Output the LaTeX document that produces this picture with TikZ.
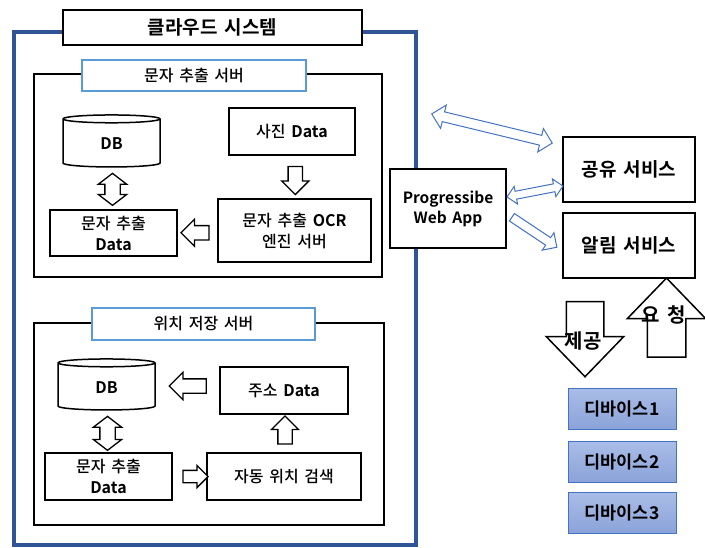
\documentclass[tikz,border=0pt]{standalone}
\usepackage{fontspec}
\setmainfont{Noto Sans CJK KR}[UprightFont=* Medium, BoldFont=* Bold, WordSpace=1.6]
\usetikzlibrary{positioning, shapes.geometric, shapes.arrows, calc}
\definecolor{cloudblue}{HTML}{2F5597}
\definecolor{lblblue}{HTML}{5B9BD5}
\definecolor{arrowblue}{HTML}{4472C4}
\definecolor{devtop}{HTML}{AABDE8}
\definecolor{devbot}{HTML}{8BA3D9}

\begin{document}
\begin{tikzpicture}[
  x=1pt, y=-1pt,
  font=\fontsize{16}{21}\selectfont,
  %% boxes
  cloudframe/.style={draw=cloudblue, line width=4pt},
  box/.style={draw, line width=2pt, fill=white, align=center, inner sep=2pt},
  srvbox/.style={draw, line width=2pt},
  srvlbl/.style={draw=lblblue, line width=2pt, fill=white,
    font=\fontsize{16}{19}\selectfont},
  dbnode/.style={draw, line width=1.5pt, fill=white, shape=cylinder,
    shape border rotate=90, aspect=0.27, font=\fontsize{16}{18}\selectfont\bfseries},
  svcbox/.style={box, font=\fontsize{19}{21}\selectfont\bfseries,
    minimum width=132pt, minimum height=65pt},
  devbox/.style={draw=arrowblue, line width=1pt, top color=devtop, bottom color=devbot,
    font=\fontsize{17.5}{19}\selectfont\bfseries, minimum width=108pt, minimum height=41pt},
  %% block arrows
  harrow/.style={shape=single arrow, draw, fill=white, line width=1.3pt,
    inner xsep=0pt, inner ysep=6.5pt, single arrow head extend=6.5pt},
  dharrow/.style={shape=double arrow, draw, fill=white, line width=1.3pt,
    inner xsep=0pt, inner ysep=7pt, double arrow head extend=6.5pt,
    double arrow tip angle=105},
  bdarrow/.style={shape=double arrow, draw=arrowblue, fill=white, line width=1pt,
    inner xsep=0pt, inner ysep=4.5pt, double arrow head extend=7pt},
  bsarrow/.style={shape=single arrow, draw=arrowblue, fill=white, line width=1pt,
    inner xsep=0pt, inner ysep=4pt, single arrow head extend=6pt},
  bigarrow/.style={shape=single arrow, draw, fill=white, line width=1.5pt,
    inner xsep=0pt, inner ysep=18pt, single arrow head extend=20pt,
    single arrow tip angle=88},
  biglbl/.style={font=\fontsize{20}{24}\selectfont\bfseries},
]
\useasboundingbox (0,0) rectangle (705,547);

%% cloud system frame
\node[cloudframe, minimum width=402pt, minimum height=513pt] (cloud) at (215,288.5) {};
\node[box, font=\fontsize{19}{22}\selectfont\bfseries, minimum width=299pt,
  minimum height=35pt] (title) at (212.5,27.5) {클라우드 시스템};

%% text extraction server
\node[srvbox, minimum width=348pt, minimum height=203pt] (ocrsrv) at (208,175.5) {};
\node[srvlbl, minimum width=224pt, minimum height=31pt] (ocrlbl) at (194,75.5) {문자 추출 서버};
\node[dbnode, minimum width=97pt, minimum height=52pt] (ocrdb) at (111.5,144) {DB};
\node[box, minimum width=126pt, minimum height=47pt] (photo) at (292,131.5) {사진 \textbf{Data}};
\node[box, minimum width=153pt, minimum height=63pt] (ocreng) at (294.5,230.5)
  {문자 추출 \textbf{OCR}\\엔진 서버};
\node[box, minimum width=127pt, minimum height=46pt] (ocrdata) at (113.5,233)
  {문자 추출\\\textbf{Data}};

\node[harrow, rotate=-90, minimum height=28pt] (a1) at ($(photo.south)!0.5!(ocreng.north)+(2,0)$) {};
\node[harrow, rotate=180, minimum height=28pt] (a2) at ($(ocreng.west)!0.5!(ocrdata.east)+(1,1)$) {};
\node[dharrow, rotate=90, minimum height=32pt] (a3) at ($(ocrdb.south)!0.5!(ocrdata.north)+(0,1)$) {};

%% location storage server
\node[srvbox, minimum width=350pt, minimum height=202pt] (locsrv) at (209,424) {};
\node[srvlbl, minimum width=223pt, minimum height=32pt] (loclbl) at (203.5,324) {위치 저장 서버};
\node[dbnode, minimum width=97pt, minimum height=51pt] (locdb) at (106.5,387.5) {DB};
\node[box, minimum width=128pt, minimum height=47pt] (addr) at (284,390.5) {주소 \textbf{Data}};
\node[box, minimum width=127pt, minimum height=47pt] (locdata) at (108.5,476.5)
  {문자 추출\\\textbf{Data}};
\node[box, minimum width=154pt, minimum height=47pt] (search) at (284,476.5) {자동 위치 검색};

\node[harrow, rotate=180, minimum height=37pt] (a4) at ($(addr.west)!0.5!(locdb.east)+(4,-3)$) {};
\node[harrow, minimum height=25pt, inner ysep=5.5pt, single arrow head extend=5pt]
  (a5) at ($(locdata.east)!0.5!(search.west)+(3,0)$) {};
\node[harrow, rotate=90, minimum height=28pt] (a6) at ($(search.north)!0.5!(addr.south)+(1,0)$) {};
\node[dharrow, rotate=90, minimum height=34pt] (a7) at ($(locdb.south)!0.5!(locdata.north)+(0,2)$) {};

%% web app and services
\node[box, font=\fontsize{15.5}{20}\selectfont\bfseries, minimum width=116pt,
  minimum height=79pt] (pwa) at (448,208.5) {Progressibe\\Web App};
\node[svcbox] (share) at (629,169.5) {공유 서비스};
\node[svcbox] (notify) at (629,245.5) {알림 서비스};

\node[bdarrow, rotate=-13.6, minimum height=124pt] (b1) at (492,128.5) {};
\node[bdarrow, rotate=11, minimum height=57pt, inner ysep=3.5pt,
  double arrow head extend=5pt] (b2) at (535,191.5) {};
\node[bsarrow, rotate=-33.7, minimum height=54pt] (b3) at (532.5,231) {};

%% provide / request
\node[bigarrow, rotate=-90, minimum height=75pt] (provide) at (585,329.5) {};
\node[biglbl] at (583,341) {제공};
\node[bigarrow, rotate=90, minimum height=79pt, inner ysep=18.5pt] (request) at (666.5,327.5) {};
\node[biglbl] at (664,315) {요 청};

%% devices
\node[devbox] (dev1) at (622,408.5) {디바이스1};
\node[devbox, below=11pt of dev1] (dev2) {디바이스2};
\node[devbox, below=9pt of dev2] (dev3) {디바이스3};

\end{tikzpicture}
\end{document}
